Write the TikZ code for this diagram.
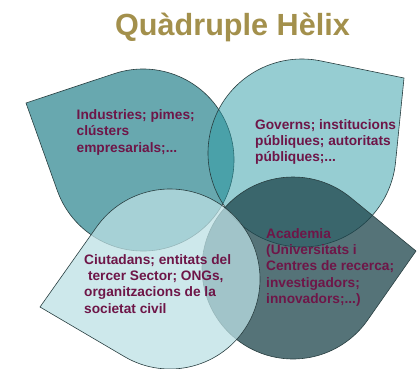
\documentclass[tikz,border=0pt]{standalone}
\usepackage{fontspec}
\setmainfont{Liberation Sans}
\definecolor{tlc}{RGB}{104,168,175}
\definecolor{trc}{RGB}{45,155,165}
\definecolor{llc}{RGB}{188,224,228}
\definecolor{lrc}{RGB}{28,68,75}
\definecolor{edge}{RGB}{40,62,64}
\definecolor{txt}{RGB}{110,22,72}
\definecolor{ttl}{RGB}{163,144,76}
\newcommand\petal[6]{%
  \pgfmathsetmacro\pd{veclen(#5-#2,#6-#3)}%
  \pgfmathsetmacro\pphi{atan2(#6-#3,#5-#2)}%
  \pgfmathsetmacro\palpha{acos(#4/\pd)}%
  \pgfmathsetmacro\pstart{\pphi+\palpha}%
  \pgfmathsetmacro\pdelta{360-2*\palpha}%
  \path[#1] (#5,#6) -- ([shift={(#2,#3)}]\pstart:#4) arc[start angle=\pstart, delta angle=\pdelta, radius=#4pt] -- cycle;%
}
\begin{document}
\begin{tikzpicture}[x=1pt,y=1pt,
  petalbox/.style={draw=edge, line width=0.6pt, line join=round},
  lbl/.style={anchor=base west, inner sep=0pt, text=txt, font=\fontsize{13.7}{16.4}\selectfont\bfseries}]
\useasboundingbox (0,0) rectangle (417,368);
% petals
\petal{petalbox, fill=tlc}{143}{208}{91}{26}{265}
\petal{petalbox, fill=trc, fill opacity=0.5}{302}{215}{94}{404}{290}
\petal{petalbox, fill=lrc, fill opacity=0.75}{293}{100}{91}{416}{117}
\petal{petalbox, fill=llc, fill opacity=0.75}{170}{89}{90}{40}{61}
% title
\node[anchor=base, inner sep=0pt, text=ttl, font=\fontsize{30.6}{36}\selectfont\bfseries] (title) at (232.5,333) {Quàdruple Hèlix};
% labels
\node[lbl] (ind) at (76.5,248.7) {\begin{tabular}[t]{@{}l@{}}Industries; pimes;\\ clústers\\ empresarials;...\end{tabular}};
\node[lbl] (gov) at (255,239) {\begin{tabular}[t]{@{}l@{}}Governs; institucions\\ públiques; autoritats\\ públiques;...\end{tabular}};
\node[lbl] (ciu) at (84,104) {\begin{tabular}[t]{@{}l@{}}Ciutadans; entitats del\\ \ tercer Sector; ONGs,\\ organitzacions de la\\ societat civil\end{tabular}};
\node[lbl] (aca) at (266,130) {\begin{tabular}[t]{@{}l@{}}Academia\\ (Universitats i\\ Centres de recerca;\\ investigadors;\\ innovadors;...)\end{tabular}};
\end{tikzpicture}
\end{document}
